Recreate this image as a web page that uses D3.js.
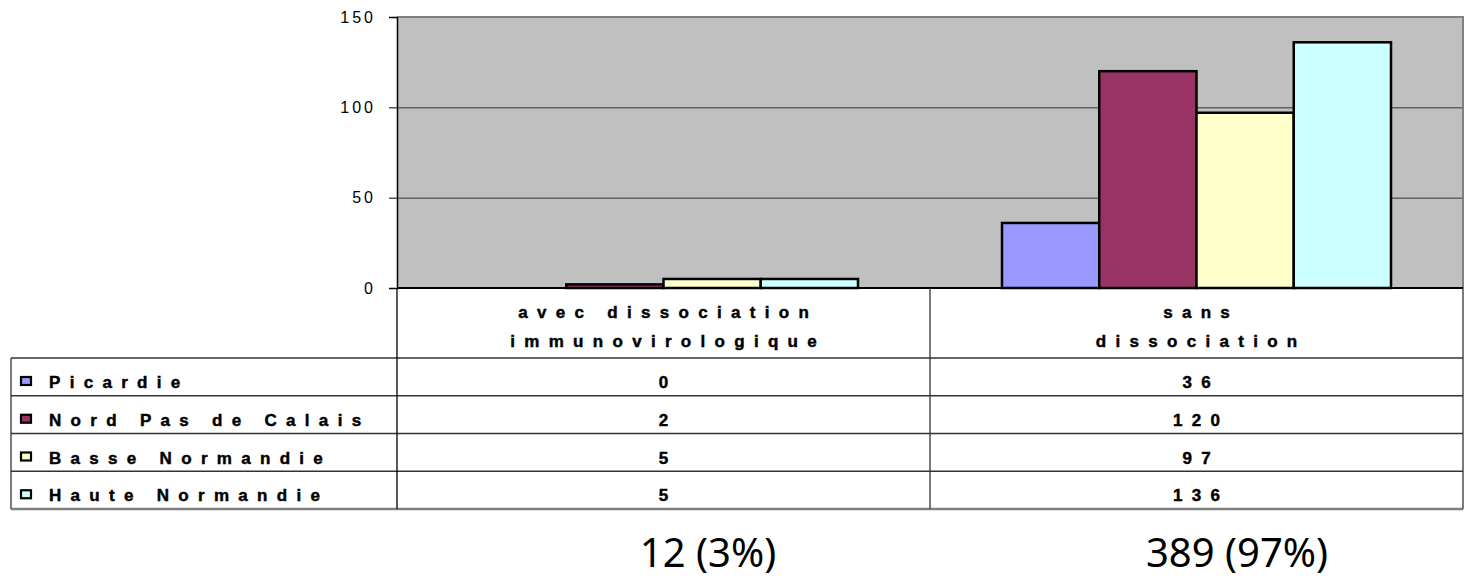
<!DOCTYPE html>
<html>
<head>
<meta charset="utf-8">
<script src="https://cdn.jsdelivr.net/npm/d3@7"></script>
<style>
	body { margin: 0; background: #fff; }
	svg { display: block; }
	text.tbl { font-family: "Liberation Sans", Arial, sans-serif; font-weight: bold; font-size: 17px; letter-spacing: 9.3px; fill: #000; stroke: #000; stroke-width: 0.45px; }
	text.ylab { font-family: "Liberation Sans", Arial, sans-serif; font-size: 16px; letter-spacing: 3px; fill: #000; }
	text.total { font-family: "Noto Sans", sans-serif; font-weight: normal; font-size: 40px; fill: #000; }
</style>
</head>
<body>
<svg id="chart" width="1467" height="578"></svg>
<script>
const categories = ['avec dissociation immunovirologique', 'sans dissociation'];
const categoryLines = [['avec dissociation', 'immunovirologique'], ['sans', 'dissociation']];
const regions = ['Picardie', 'Nord Pas de Calais', 'Basse Normandie', 'Haute Normandie'];
const avecValues = [0, 2, 5, 5];
const sansValues = [36, 120, 97, 136];
const regionColors = ['#9999FF', '#993366', '#FFFFCC', '#CCFFFF'];
const yTicks = [0, 50, 100, 150];

const seriesByCategory = [avecValues, sansValues];

const plot = { left: 397, right: 1463, top: 17, bottom: 288 };
const table = { left: 11, headerBottom: 358, bottom: 509 };
const ls = 9.3; // letter spacing of the table text

const svg = d3.select('#chart');

const x0 = d3.scaleBand().domain(categories).range([plot.left, plot.right]);
const gap = 72;
const x1 = d3.scaleBand().domain(regions).range([gap, x0.bandwidth() - gap]);
const y = d3.scaleLinear().domain([0, 150]).range([plot.bottom, plot.top]);
const rowY = d3.scaleBand().domain(regions).range([table.headerBottom, table.bottom]);

// plot background
svg.append('rect')
	.attr('x', plot.left).attr('y', plot.top)
	.attr('width', plot.right - plot.left).attr('height', plot.bottom - plot.top)
	.attr('fill', '#C0C0C0');

// grid lines
svg.append('g')
	.attr('transform', 'translate(' + plot.left + ',0)')
	.call(d3.axisLeft(y).tickValues(yTicks.slice(1, -1)).tickSize(-(plot.right - plot.left)).tickFormat(''))
	.call(g => g.select('.domain').remove())
	.call(g => g.selectAll('line').attr('stroke', '#333').attr('stroke-width', 1));

// plot border top & right
svg.append('path')
	.attr('d', 'M' + plot.left + ',' + plot.top + 'H' + plot.right + 'V' + plot.bottom)
	.attr('fill', 'none').attr('stroke', '#808080').attr('stroke-width', 2);

// bars
const groups = svg.append('g').selectAll('g')
	.data(categories)
	.join('g')
	.attr('transform', d => 'translate(' + x0(d) + ',0)');

groups.selectAll('rect')
	.data((d, ci) => regions.map((r, ri) => ({ region: r, value: seriesByCategory[ci][ri], color: regionColors[ri] })))
	.join('rect')
	.filter(d => d.value > 0)
	.attr('x', d => x1(d.region))
	.attr('y', d => y(d.value))
	.attr('width', x1.bandwidth())
	.attr('height', d => y(0) - y(d.value))
	.attr('fill', d => d.color)
	.attr('stroke', '#000')
	.attr('stroke-width', 2.5);

// y axis
svg.append('g')
	.attr('transform', 'translate(' + plot.left + ',0)')
	.call(d3.axisLeft(y).tickValues(yTicks).tickSize(8).tickPadding(13))
	.call(g => g.attr('font-size', null).attr('font-family', null))
	.call(g => g.select('.domain').attr('stroke', '#000').attr('stroke-width', 1.5))
	.call(g => g.selectAll('.tick line').attr('stroke', '#000'))
	.call(g => g.selectAll('text').attr('class', 'ylab'));

// table lines
const tableLines = svg.append('g').attr('stroke', '#333').attr('stroke-width', 1.3).attr('fill', 'none');
// axis line / table top
tableLines.append('line').attr('x1', plot.left).attr('x2', plot.right).attr('y1', plot.bottom).attr('y2', plot.bottom)
	.attr('stroke', '#000').attr('stroke-width', 2);
// horizontal row lines
tableLines.selectAll('.hline')
	.data(regions)
	.join('line')
	.attr('class', 'hline')
	.attr('x1', table.left).attr('x2', plot.right)
	.attr('y1', d => rowY(d)).attr('y2', d => rowY(d));
tableLines.append('line')
	.attr('x1', table.left).attr('x2', plot.right)
	.attr('y1', table.bottom).attr('y2', table.bottom)
	.attr('stroke', '#808080').attr('stroke-width', 2.5);
// vertical lines
tableLines.selectAll('.vline')
	.data(categories.concat(['end']))
	.join('line')
	.attr('class', 'vline')
	.attr('x1', d => d === 'end' ? plot.right : x0(d))
	.attr('x2', d => d === 'end' ? plot.right : x0(d))
	.attr('y1', plot.bottom).attr('y2', table.bottom)
	.attr('stroke', d => d === categories[0] ? '#000' : '#333');
tableLines.append('line')
	.attr('x1', table.left).attr('x2', table.left)
	.attr('y1', table.headerBottom).attr('y2', table.bottom);

// header labels
const header = svg.append('g');
categories.forEach((c, ci) => {
	header.selectAll('.h' + ci)
		.data(categoryLines[ci])
		.join('text')
		.attr('class', 'tbl h' + ci)
		.attr('x', x0(c) + x0.bandwidth() / 2 + ls / 2)
		.attr('y', (d, i) => 318 + i * 29)
		.attr('text-anchor', 'middle')
		.text(d => d);
});

// legend column
const legendRows = svg.append('g').selectAll('g')
	.data(regions)
	.join('g')
	.attr('transform', d => 'translate(0,' + (rowY(d) + 30) + ')');

legendRows.append('rect')
	.attr('x', 21).attr('y', -11)
	.attr('width', 10).attr('height', 8)
	.attr('fill', (d, i) => regionColors[i])
	.attr('stroke', '#000').attr('stroke-width', 2.2);

legendRows.append('text')
	.attr('class', 'tbl')
	.attr('x', 49)
	.text(d => d);

// values
legendRows.selectAll('.val')
	.data((d, ri) => categories.map((c, ci) => ({ cat: c, value: seriesByCategory[ci][ri] })))
	.join('text')
	.attr('class', 'tbl val')
	.attr('x', d => x0(d.cat) + x0.bandwidth() / 2 + ls / 2)
	.attr('text-anchor', 'middle')
	.text(d => d.value);

// totals under the table
const totals = seriesByCategory.map(v => d3.sum(v));
const grand = d3.sum(totals);
const totalX = [708, 1237];
svg.append('g').selectAll('text')
	.data(totals)
	.join('text')
	.attr('class', 'total')
	.attr('x', (d, i) => totalX[i])
	.attr('y', 567)
	.attr('text-anchor', 'middle')
	.text(d => d + ' (' + Math.round(d / grand * 100) + '%)');
</script>
</body>
</html>
